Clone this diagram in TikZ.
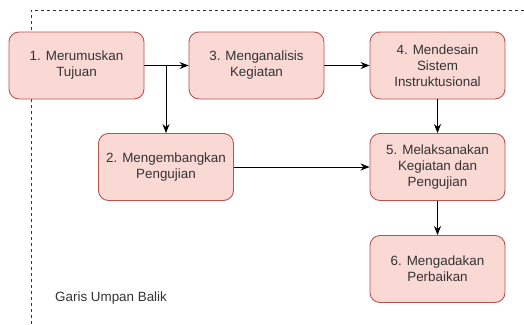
\documentclass[tikz,border=0pt]{standalone}
\usepackage{fontspec}
\setmainfont{Liberation Sans}
\usetikzlibrary{arrows.meta}

\definecolor{boxfill}{HTML}{FAD9D5}
\definecolor{boxline}{HTML}{B85450}
\definecolor{txt}{HTML}{333333}

\begin{document}
\begin{tikzpicture}[x=1pt, y=-1pt,
  langkah/.style={draw=boxline, fill=boxfill, line width=0.9pt, rounded corners=10pt,
    minimum width=135pt, minimum height=67pt, inner sep=0pt, align=center,
    text=txt, font=\fontsize{13.4}{16}\selectfont},
  panah/.style={line width=0.9pt, -{Stealth[length=9pt, width=7pt]}},
  batas/.style={line width=0.8pt, dash pattern=on 3pt off 3pt, color=black!80}]

\useasboundingbox (0,0) rectangle (524,324);

% garis umpan balik
\draw [batas] (31,324) -- (31,10) -- (524,10);

\node [langkah] (rumus) at (76.5,65.5) {1. Merumuskan\\Tujuan};
\node [langkah] (analisis) at (256.5,65.5) {3. Menganalisis\\Kegiatan};
\node [langkah] (desain) at (437.5,65.5) {4. Mendesain\\Sistem\\Instruktusional};
\node [langkah] (kembang) at (166,167) {2. Mengembangkan\\Pengujian};
\node [langkah] (laksana) at (437.5,167) {5. Melaksanakan\\Kegiatan dan\\Pengujian};
\node [langkah] (baik) at (437.5,269) {6. Mengadakan\\Perbaikan};

\node [anchor=west, text=txt, font=\fontsize{13.4}{16}\selectfont, inner sep=0pt]
  (umpan) at (55,298) {Garis Umpan Balik};

\coordinate (cabang) at (kembang |- rumus);

\draw [panah] (rumus) -- (analisis);
\draw [panah] (cabang) -- (kembang);
\draw [panah] (analisis) -- (desain);
\draw [panah] (desain) -- (laksana);
\draw [panah] (kembang) -- (laksana);
\draw [panah] (laksana) -- (baik);
\end{tikzpicture}
\end{document}
